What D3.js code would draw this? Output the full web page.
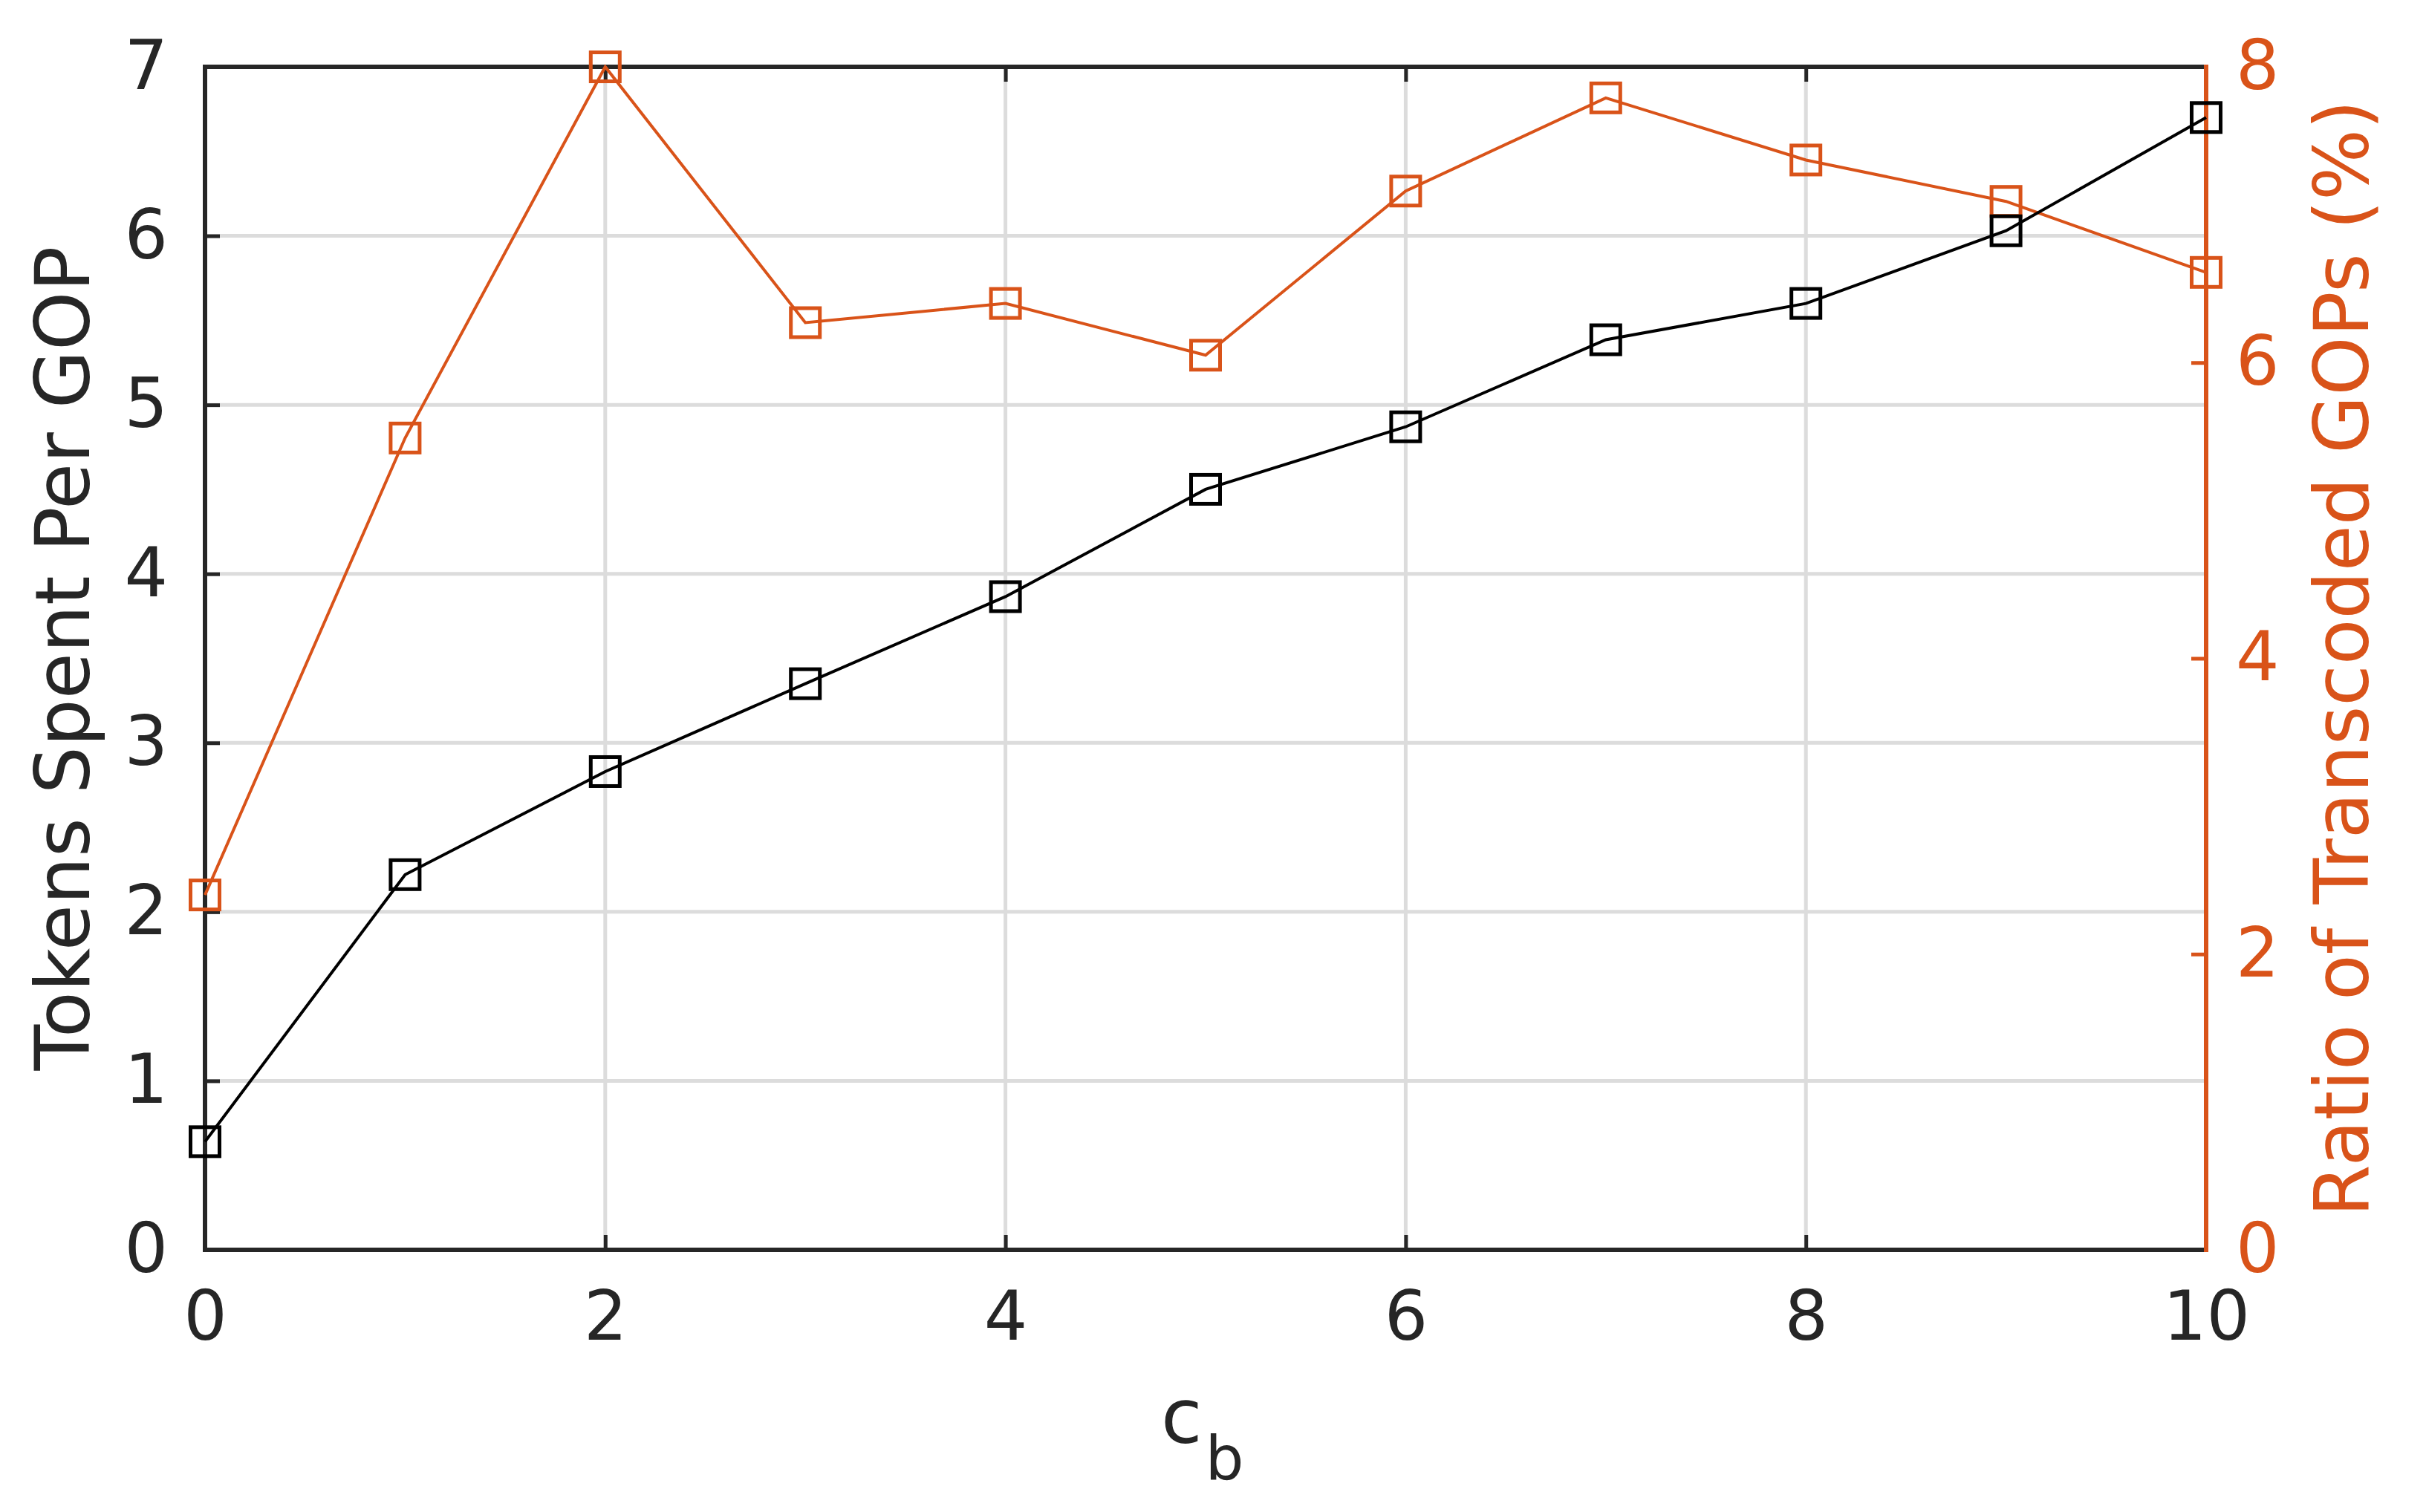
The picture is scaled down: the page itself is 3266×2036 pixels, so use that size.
<!DOCTYPE html>
<html>
<head>
<meta charset="utf-8">
<script src="https://cdn.jsdelivr.net/npm/d3@7"></script>
<style>
  html, body { margin: 0; padding: 0; background: #fff; }
  svg { display: block; }
</style>
</head>
<body>
<svg id="chart" width="3266" height="2036"></svg>
<script>
// ---- data ----
const cb = [0, 1, 2, 3, 4, 5, 6, 7, 8, 9, 10];
const tokensPerGOP = [0.64, 2.22, 2.83, 3.35, 3.865, 4.50, 4.87, 5.385, 5.60, 6.03, 6.70];
const ratioTranscoded = [2.40, 5.49, 8.0, 6.27, 6.40, 6.05, 7.16, 7.79, 7.37, 7.09, 6.61];
const xTicks = [0, 2, 4, 6, 8, 10];
const yLeftTicks = [0, 1, 2, 3, 4, 5, 6, 7];
const yRightTicks = [0, 2, 4, 6, 8];
const xLabel = "c";
const xLabelSub = "b";
const yLeftLabel = "Tokens Spent Per GOP";
const yRightLabel = "Ratio of Transcoded GOPs (%)";

// ---- layout ----
const L = 276, R = 2970, T = 90, B = 1683;
const orange = "#D95319";
const axisCol = "#262626";
const font = "'DejaVu Sans', sans-serif";

const svg = d3.select("#chart");
const x = d3.scaleLinear().domain([0, 10]).range([L, R]);
const yL = d3.scaleLinear().domain([0, 7]).range([B, T]);
const yR = d3.scaleLinear().domain([0, 8]).range([B, T]);

// grid
const grid = svg.append("g");
grid.selectAll("line.v").data(xTicks.filter(d => d > 0 && d < 10)).join("line")
  .attr("x1", d => x(d)).attr("x2", d => x(d)).attr("y1", T).attr("y2", B)
  .attr("stroke", "#dcdcdc").attr("stroke-width", 5);
grid.selectAll("line.h").data(yLeftTicks.filter(d => d > 0 && d < 7)).join("line")
  .attr("x1", L).attr("x2", R).attr("y1", d => yL(d)).attr("y2", d => yL(d))
  .attr("stroke", "#dcdcdc").attr("stroke-width", 5);

// axes
const tick = 20;
function styleAxis(g, col, size) {
  g.select(".domain").remove();
  g.selectAll(".tick line").attr("stroke", col).attr("stroke-width", 5);
  g.selectAll(".tick text").attr("fill", col).attr("font-family", font).attr("font-size", size);
}
const gx = svg.append("g").attr("transform", `translate(0,${B})`)
  .call(d3.axisBottom(x).tickValues(xTicks).tickFormat(d3.format("d")).tickSizeInner(-tick).tickSizeOuter(0).tickPadding(56));
styleAxis(gx, axisCol, 92);
const gxTop = svg.append("g").attr("transform", `translate(0,${T})`)
  .call(d3.axisTop(x).tickValues(xTicks).tickFormat("").tickSizeInner(-tick).tickSizeOuter(0));
styleAxis(gxTop, axisCol, 92);
const gyL = svg.append("g").attr("transform", `translate(${L},0)`)
  .call(d3.axisLeft(yL).tickValues(yLeftTicks).tickFormat(d3.format("d")).tickSizeInner(-tick).tickSizeOuter(0).tickPadding(50));
styleAxis(gyL, axisCol, 92);
const gyR = svg.append("g").attr("transform", `translate(${R},0)`)
  .call(d3.axisRight(yR).tickValues(yRightTicks).tickFormat(d3.format("d")).tickSizeInner(-tick).tickSizeOuter(0).tickPadding(40));
styleAxis(gyR, orange, 92);

// box lines
svg.append("line").attr("x1", L).attr("x2", R).attr("y1", T).attr("y2", T).attr("stroke", axisCol).attr("stroke-width", 6);
svg.append("line").attr("x1", L).attr("x2", R).attr("y1", B).attr("y2", B).attr("stroke", axisCol).attr("stroke-width", 6);
svg.append("line").attr("x1", L).attr("x2", L).attr("y1", T - 3).attr("y2", B + 3).attr("stroke", axisCol).attr("stroke-width", 6);
svg.append("line").attr("x1", R).attr("x2", R).attr("y1", T - 3).attr("y2", B + 3).attr("stroke", orange).attr("stroke-width", 6);

// series
function drawSeries(vals, yScale, col) {
  const pts = cb.map((c, i) => [c, vals[i]]);
  svg.append("path").datum(pts)
    .attr("fill", "none").attr("stroke", col).attr("stroke-width", 4)
    .attr("d", d3.line().x(d => x(d[0])).y(d => yScale(d[1])));
  const s = 39;
  svg.append("g").selectAll("rect").data(pts).join("rect")
    .attr("x", d => x(d[0]) - s / 2).attr("y", d => yScale(d[1]) - s / 2)
    .attr("width", s).attr("height", s)
    .attr("fill", "none").attr("stroke", col).attr("stroke-width", 5);
}
drawSeries(ratioTranscoded, yR, orange);
drawSeries(tokensPerGOP, yL, "#000");

// labels
svg.append("text")
  .attr("transform", `translate(120,${(T + B) / 2}) rotate(-90)`)
  .attr("text-anchor", "middle").attr("font-family", font).attr("font-size", 101)
  .attr("fill", axisCol).text(yLeftLabel);
svg.append("text")
  .attr("transform", `translate(3188,${(T + B) / 2}) rotate(-90)`)
  .attr("text-anchor", "middle").attr("font-family", font).attr("font-size", 101)
  .attr("fill", orange).text(yRightLabel);
const xl = svg.append("text").attr("x", 1563).attr("y", 1943)
  .attr("font-family", font).attr("font-size", 101).attr("fill", axisCol);
xl.append("tspan").text(xLabel);
xl.append("tspan").attr("dy", 49).attr("dx", 4).attr("font-size", 82).text(xLabelSub);
</script>
</body>
</html>
